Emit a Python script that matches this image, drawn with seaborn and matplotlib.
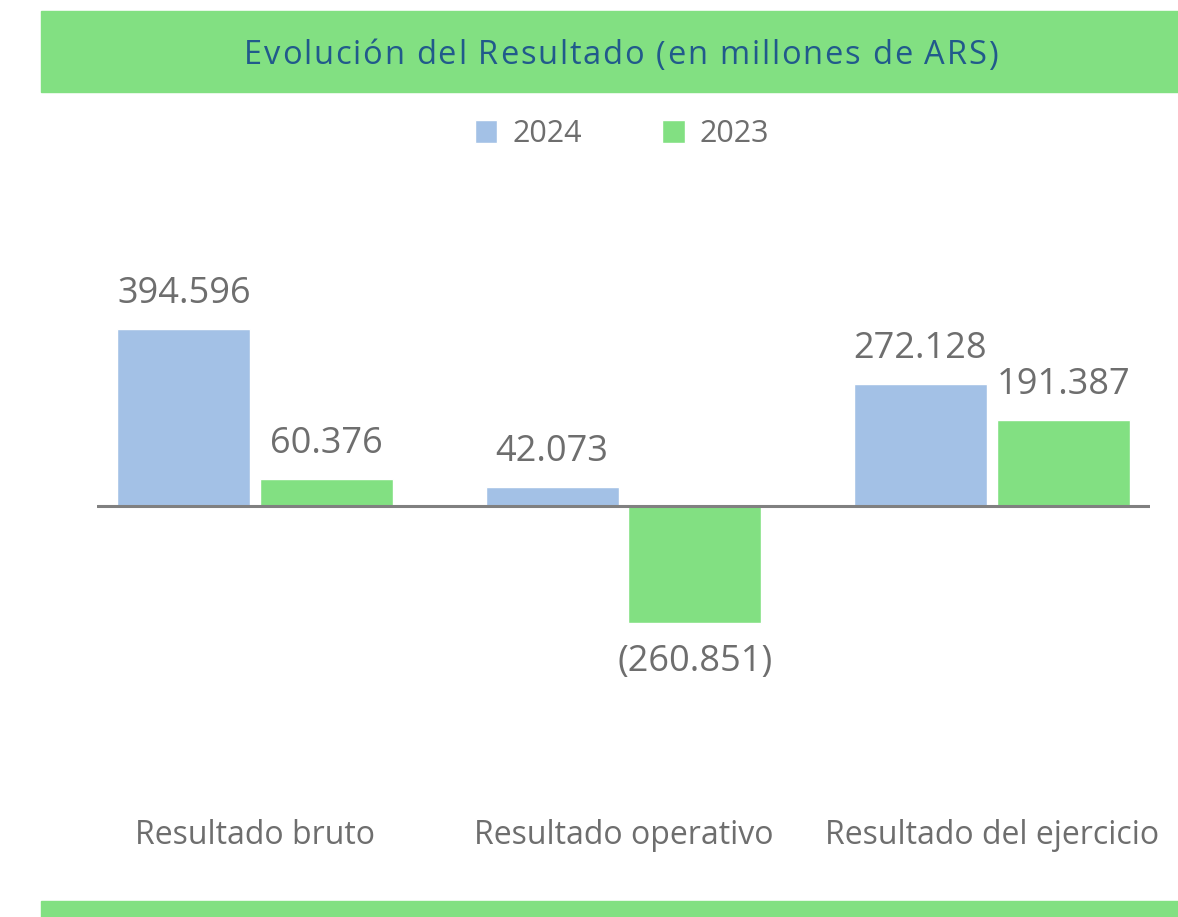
import pandas as pd
import seaborn as sns
import matplotlib.pyplot as plt
from matplotlib.patches import Rectangle

# Datos (en millones de ARS)
categorias = ["Resultado bruto", "Resultado operativo", "Resultado del ejercicio"]
anios = ["2024", "2023"]
valores_2024 = [394.596, 42.073, 272.128]
valores_2023 = [60.376, -260.851, 191.387]
titulo = "Evolución del Resultado (en millones de ARS)"

colores = {"2024": "#a3c1e6", "2023": "#82e082"}
verde_banda = "#82e082"
gris_texto = "#6e6e6e"
azul_titulo = "#215a8b"

df = pd.DataFrame({
    "categoria": categorias * 2,
    "anio": ["2024"] * 3 + ["2023"] * 3,
    "valor": valores_2024 + valores_2023,
})

sns.set_style("white")
plt.rcParams["font.family"] = ["Open Sans", "DejaVu Sans"]

W, H = 1178, 917
fig = plt.figure(figsize=(W / 100, H / 100), dpi=100)

# bandas verdes (arriba y abajo)
fig.patches.append(Rectangle((41 / W, 1 - 92 / H), 1 - 41 / W, 81 / H,
                             transform=fig.transFigure, color=verde_banda, zorder=0))
fig.patches.append(Rectangle((41 / W, 0), 1 - 41 / W, 16 / H,
                             transform=fig.transFigure, color=verde_banda, zorder=0))

# titulo con espaciado entre letras (letra por letra)
rend = fig.canvas.get_renderer()
tam_titulo = 23.5


def ancho(s):
    t = fig.text(0, 0, s + "|", fontsize=tam_titulo)
    w = t.get_window_extent(rend).width
    t.remove()
    return w


w_barra = ancho("")
x0, x1 = 244, 998
natural = ancho(titulo) - w_barra
esp = (x1 - x0 - natural) / (len(titulo) - 1)
for i, ch in enumerate(titulo):
    if ch == " ":
        continue
    x = x0 + ancho(titulo[:i]) - w_barra + i * esp
    fig.text(x / W, 1 - 52 / H, ch, ha="left", va="center_baseline",
             fontsize=tam_titulo, color=azul_titulo)

# ejes: de x=97 a 1150 px, de y=200 a 790 px
ax = fig.add_axes([97 / W, 1 - 790 / H, (1150 - 97) / W, 590 / H])
sns.barplot(data=df, x="categoria", y="valor", hue="anio", order=categorias,
            hue_order=anios, palette=colores, width=0.776, gap=0.07,
            saturation=1, ax=ax, errorbar=None)

ax.set_xlim(-0.43, 2.43)
ax.set_ylim(-(790 - 506) / 0.448, (506 - 200) / 0.448)
ax.axhline(0, color="#808080", lw=2.2, zorder=3)

for s in ax.spines.values():
    s.set_visible(False)
ax.set_yticks([])
ax.set_xlabel("")
ax.set_ylabel("")
ax.tick_params(axis="x", length=0, pad=21, labelsize=23, labelcolor=gris_texto)

# etiquetas de valores
for cont in ax.containers:
    for barra in cont:
        v = barra.get_height()
        x = barra.get_x() + barra.get_width() / 2
        if v >= 0:
            ax.annotate(f"{v:.3f}", (x, v), xytext=(0, 12.5), textcoords="offset points",
                        ha="center", va="bottom", fontsize=26, color=gris_texto)
        else:
            ax.annotate(f"({-v:.3f})", (x, v), xytext=(0, -15), textcoords="offset points",
                        ha="center", va="top", fontsize=26, color=gris_texto)

# leyenda
handles, labels = ax.get_legend_handles_labels()
ax.get_legend().remove()
fig.legend(handles, labels, loc="center", bbox_to_anchor=(622 / W, 1 - 134 / H),
           ncol=2, frameon=False, fontsize=22, labelcolor=gris_texto,
           handlelength=0.75, handleheight=0.75, handletextpad=0.5, columnspacing=2.6)

plt.savefig("out.png", dpi=100)
